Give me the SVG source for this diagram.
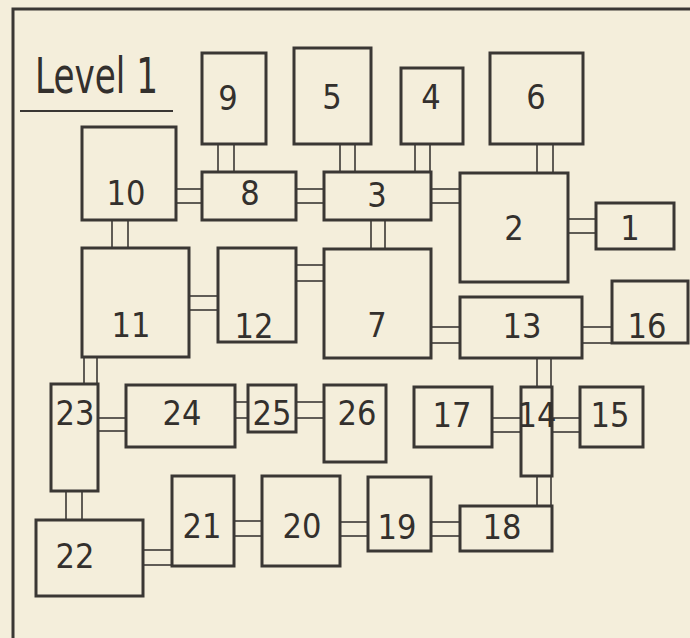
<svg xmlns="http://www.w3.org/2000/svg" width="690" height="638" viewBox="0 0 690 638">
<style>
.bg{fill:#f4eedb}
.frame{stroke:#3a3734;stroke-width:3;fill:none}
.box{fill:#f4eedb;stroke:#3a3734;stroke-width:3}
.c line{stroke:#3a3734;stroke-width:1.6}
.t{font-family:"Liberation Sans Narrow","DejaVu Sans Condensed","Liberation Sans",sans-serif;font-size:34px;fill:#33302d;text-anchor:middle}
.title{font-family:"Liberation Sans Narrow","DejaVu Sans Condensed","Liberation Sans",sans-serif;font-size:50px;fill:#33302d}
</style>
<rect class="bg" x="0" y="0" width="690" height="638"/>
<path class="frame" d="M13,638 V9 H690"/>
<g id="title">
<text class="title" x="35" y="93" textLength="123" lengthAdjust="spacingAndGlyphs">Level 1</text>
<line x1="20" y1="111" x2="173" y2="111" stroke="#3a3734" stroke-width="2"/>
</g>
<g id="connectors" class="c">
<line x1="218" y1="144" x2="218" y2="172"/><line x1="234" y1="144" x2="234" y2="172"/>
<line x1="340" y1="144" x2="340" y2="172"/><line x1="355" y1="144" x2="355" y2="172"/>
<line x1="415" y1="144" x2="415" y2="172"/><line x1="430" y1="144" x2="430" y2="172"/>
<line x1="537" y1="144" x2="537" y2="173"/><line x1="553" y1="144" x2="553" y2="173"/>
<line x1="176" y1="189" x2="202" y2="189"/><line x1="176" y1="203" x2="202" y2="203"/>
<line x1="296" y1="189" x2="324" y2="189"/><line x1="296" y1="203" x2="324" y2="203"/>
<line x1="431" y1="189" x2="460" y2="189"/><line x1="431" y1="203" x2="460" y2="203"/>
<line x1="568" y1="219" x2="596" y2="219"/><line x1="568" y1="233" x2="596" y2="233"/>
<line x1="112" y1="220" x2="112" y2="248"/><line x1="128" y1="220" x2="128" y2="248"/>
<line x1="371" y1="220" x2="371" y2="249"/><line x1="385" y1="220" x2="385" y2="249"/>
<line x1="189" y1="296" x2="218" y2="296"/><line x1="189" y1="310" x2="218" y2="310"/>
<line x1="296" y1="265" x2="324" y2="265"/><line x1="296" y1="281" x2="324" y2="281"/>
<line x1="431" y1="327" x2="460" y2="327"/><line x1="431" y1="343" x2="460" y2="343"/>
<line x1="582" y1="327" x2="612" y2="327"/><line x1="582" y1="343" x2="612" y2="343"/>
<line x1="84" y1="357" x2="84" y2="384"/><line x1="97" y1="357" x2="97" y2="384"/>
<line x1="98" y1="418" x2="126" y2="418"/><line x1="98" y1="431" x2="126" y2="431"/>
<line x1="235" y1="402" x2="248" y2="402"/><line x1="235" y1="418" x2="248" y2="418"/>
<line x1="296" y1="402" x2="324" y2="402"/><line x1="296" y1="418" x2="324" y2="418"/>
<line x1="537" y1="358" x2="537" y2="387"/><line x1="551" y1="358" x2="551" y2="387"/>
<line x1="492" y1="418" x2="521" y2="418"/><line x1="492" y1="432" x2="521" y2="432"/>
<line x1="552" y1="418" x2="580" y2="418"/><line x1="552" y1="432" x2="580" y2="432"/>
<line x1="66" y1="491" x2="66" y2="520"/><line x1="82" y1="491" x2="82" y2="520"/>
<line x1="143" y1="550" x2="172" y2="550"/><line x1="143" y1="565" x2="172" y2="565"/>
<line x1="234" y1="521" x2="262" y2="521"/><line x1="234" y1="536" x2="262" y2="536"/>
<line x1="340" y1="522" x2="368" y2="522"/><line x1="340" y1="536" x2="368" y2="536"/>
<line x1="431" y1="522" x2="460" y2="522"/><line x1="431" y1="536" x2="460" y2="536"/>
<line x1="537" y1="476" x2="537" y2="506"/><line x1="551" y1="476" x2="551" y2="506"/>
</g>
<g id="n1"><rect class="box" x="596" y="203" width="78" height="46"/><text class="t" x="630" y="240">1</text></g>
<g id="n2"><rect class="box" x="460" y="173" width="108" height="109"/><text class="t" x="514" y="240">2</text></g>
<g id="n3"><rect class="box" x="324" y="172" width="107" height="48"/><text class="t" x="377" y="207">3</text></g>
<g id="n4"><rect class="box" x="401" y="68" width="62" height="76"/><text class="t" x="431" y="109">4</text></g>
<g id="n5"><rect class="box" x="294" y="48" width="77" height="96"/><text class="t" x="332" y="109">5</text></g>
<g id="n6"><rect class="box" x="490" y="53" width="93" height="91"/><text class="t" x="536" y="109">6</text></g>
<g id="n7"><rect class="box" x="324" y="249" width="107" height="109"/><text class="t" x="377" y="337">7</text></g>
<g id="n8"><rect class="box" x="202" y="172" width="94" height="48"/><text class="t" x="250" y="205">8</text></g>
<g id="n9"><rect class="box" x="202" y="53" width="64" height="91"/><text class="t" x="228" y="110">9</text></g>
<g id="n10"><rect class="box" x="82" y="127" width="94" height="93"/><text class="t" x="126" y="205">10</text></g>
<g id="n11"><rect class="box" x="82" y="248" width="107" height="109"/><text class="t" x="131" y="337">11</text></g>
<g id="n12"><rect class="box" x="218" y="248" width="78" height="94"/><text class="t" x="254" y="338">12</text></g>
<g id="n13"><rect class="box" x="460" y="297" width="122" height="61"/><text class="t" x="522" y="338">13</text></g>
<g id="n14"><rect class="box" x="521" y="387" width="31" height="89"/><text class="t" x="537" y="427">14</text></g>
<g id="n15"><rect class="box" x="580" y="387" width="63" height="60"/><text class="t" x="610" y="427">15</text></g>
<g id="n16"><rect class="box" x="612" y="281" width="76" height="62"/><text class="t" x="647" y="338">16</text></g>
<g id="n17"><rect class="box" x="414" y="387" width="78" height="60"/><text class="t" x="452" y="427">17</text></g>
<g id="n18"><rect class="box" x="460" y="506" width="92" height="45"/><text class="t" x="502" y="539">18</text></g>
<g id="n19"><rect class="box" x="368" y="477" width="63" height="74"/><text class="t" x="397" y="539">19</text></g>
<g id="n20"><rect class="box" x="262" y="476" width="78" height="90"/><text class="t" x="302" y="538">20</text></g>
<g id="n21"><rect class="box" x="172" y="476" width="62" height="90"/><text class="t" x="202" y="538">21</text></g>
<g id="n22"><rect class="box" x="36" y="520" width="107" height="76"/><text class="t" x="75" y="568">22</text></g>
<g id="n23"><rect class="box" x="51" y="384" width="47" height="107"/><text class="t" x="75" y="425">23</text></g>
<g id="n24"><rect class="box" x="126" y="385" width="109" height="62"/><text class="t" x="182" y="425">24</text></g>
<g id="n25"><rect class="box" x="248" y="385" width="48" height="47"/><text class="t" x="272" y="425">25</text></g>
<g id="n26"><rect class="box" x="324" y="385" width="62" height="77"/><text class="t" x="357" y="425">26</text></g>
</svg>
